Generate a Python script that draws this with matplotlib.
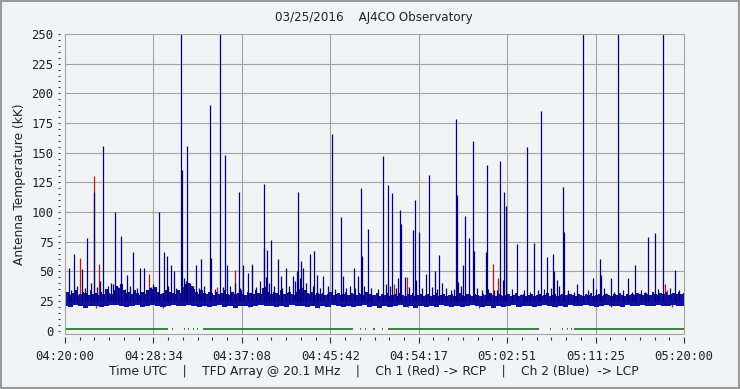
import numpy as np
import matplotlib
matplotlib.use("Agg")
import matplotlib.pyplot as plt
from matplotlib.patches import Rectangle
from matplotlib.ticker import MultipleLocator, FixedLocator

# ---------------- data (minutes after 04:20:00) ----------------
tick_labels = ["04:20:00", "04:28:34", "04:37:08", "04:45:42",
               "04:54:17", "05:02:51", "05:11:25", "05:20:00"]

# upper envelope of the Ch 2 (blue) noise band, every 0.25 min
band_hi = [31, 33, 30, 32, 34, 30, 31, 33, 32, 30, 34, 31, 32, 30, 33, 31, 35, 32, 31, 34,
           38, 36, 39, 34, 32, 33, 31, 34, 32, 30, 33, 31, 34, 36, 35, 37, 33, 31, 32, 34,
           31, 33, 32, 31, 34, 32, 37, 39, 40, 38, 35, 33, 31, 34, 32, 31, 33, 32, 30, 33,
           31, 32, 34, 31, 30, 33, 31, 32, 34, 31, 30, 33, 32, 31, 34, 32, 31, 36, 37, 33,
           31, 33, 32, 30, 34, 31, 32, 33, 31, 30, 33, 35, 36, 34, 32, 31, 33, 30, 32, 31,
           32, 30, 31, 33, 30, 31, 32, 30, 31, 33, 30, 32, 31, 30, 32, 31, 30, 33, 31, 30,
           30, 32, 29, 31, 30, 32, 29, 30, 31, 29, 32, 30, 29, 31, 30, 32, 29, 30, 31, 29,
           30, 31, 29, 30, 32, 29, 30, 31, 29, 30, 31, 29, 30, 32, 30, 29, 31, 30, 29, 31,
           30, 29, 31, 30, 29, 32, 30, 29, 31, 30, 29, 30, 31, 29, 30, 32, 29, 30, 31, 29,
           30, 31, 29, 30, 31, 29, 30, 32, 29, 30, 31, 29, 30, 31, 30, 29, 31, 30, 29, 31,
           30, 29, 31, 30, 32, 29, 30, 31, 29, 30, 31, 30, 29, 31, 30, 32, 30, 29, 31, 30,
           31, 30, 32, 31, 30, 32, 31, 30, 33, 31, 30, 32, 31, 33, 30, 31, 32, 31, 33, 31,
           32]
# lower envelope of the blue band, every 0.5 min
band_lo = [20.5, 20, 21.5, 20.5, 19.5, 21, 20.5, 20, 21, 21.5, 22, 20.5, 20, 21, 21.5,
           20, 20.5, 21.5, 20.5, 20, 21, 21.5, 20.5, 21, 22, 20.5, 20, 21, 20, 20.5,
           21.5, 20, 20.5, 19.5, 21, 20.5, 20, 21, 21.5, 21, 20.5, 20, 21, 20, 21.5,
           21, 20.5, 20, 21, 19.5, 20.5, 20, 21.5, 20.5, 20, 21, 20, 20.5, 21.5, 20,
           20.5, 19.5, 21, 20, 20.5, 21.5, 20, 20.5, 19.5, 21, 20, 20.5, 20, 21.5, 20.5,
           20, 21, 20, 20.5, 21.5, 20.5, 20, 21, 19.5, 20.5, 20, 21, 21.5, 20, 20.5,
           21, 20, 20.5, 21.5, 20.5, 20, 21, 20, 21.5, 20.5, 20.5, 21.5, 20.5, 20, 21,
           21.5, 20.5, 21, 20, 21.5, 20.5, 21, 21.5, 20.5, 21, 21.5, 20.5, 21, 21.5, 21, 21]

# Ch 2 (blue) spikes: time (min), peak (kK); 260 = off scale
blue_t = [0.36, 0.90, 1.65, 2.16, 2.84, 3.71, 4.88, 5.40, 6.04, 6.62, 7.30, 7.63,
          9.14, 9.57, 9.92, 10.30, 10.59, 11.27, 11.37, 11.83, 12.73, 13.21, 14.08,
          14.18, 15.05, 15.54, 15.73, 16.90, 17.28, 17.77, 18.16, 19.26, 19.32, 19.61,
          20.00, 20.68, 20.97, 21.39, 22.13, 22.52, 22.61, 22.91, 23.10, 23.78, 24.17,
          24.46, 25.01, 25.91, 26.78, 26.95, 27.98, 28.43, 28.72, 28.79, 29.40, 30.85,
          31.14, 31.34, 31.73, 32.31, 32.50, 32.60, 32.99, 33.70, 33.96, 34.05, 34.34,
          35.02, 35.31, 35.89, 36.09, 36.28, 36.57, 37.45, 37.93, 38.02, 38.12, 38.61,
          38.80, 39.19, 39.58, 39.65, 40.84, 40.93, 41.22, 41.61, 42.19, 42.48, 42.58,
          42.77, 43.84, 44.81, 45.49, 46.01, 46.11, 46.75, 47.33, 47.43, 47.72, 48.30,
          48.40, 49.66, 50.24, 51.21, 51.89, 51.98, 52.95, 53.63, 54.60, 55.28, 56.54,
          57.22, 57.99, 59.16]
blue_v = [53, 65, 52, 78, 117, 156, 100, 80, 47, 66, 53, 53,
          100, 66, 63, 55, 50, 260, 135, 156, 55, 60, 190,
          61, 260, 148, 55, 117, 55, 49, 55, 70, 124, 68,
          76, 60, 46, 53, 46, 50, 117, 59, 53, 65, 67,
          47, 46, 166, 96, 46, 53, 46, 120, 63, 86, 147,
          39, 123, 116, 44, 102, 90, 45, 85, 110, 43, 83,
          48, 131, 50, 35, 64, 40, 34, 178, 114, 41, 55,
          97, 78, 160, 67, 66, 140, 32, 34, 143, 43, 117,
          105, 73, 155, 74, 31, 185, 62, 65, 50, 43, 121,
          83, 39, 260, 44, 60, 47, 44, 260, 44, 55, 79,
          82, 260, 51]
# small blue noise spikes
small_t = [0.6, 1.2, 1.9, 2.5, 3.1, 3.4, 4.2, 4.5, 4.7, 5.1, 5.8, 6.3, 7.0, 7.9, 8.3,
           8.5, 8.8, 10.0, 10.8, 11.5, 11.7, 12.1, 12.4, 13.0, 13.5, 14.5, 15.3, 16.0,
           16.5, 17.0, 18.5, 18.9, 19.5, 19.8, 20.3, 21.0, 21.7, 22.3, 22.8, 23.4, 24.0,
           24.7, 25.5, 26.2, 27.2, 27.6, 28.1, 29.0, 29.7, 30.3, 31.5, 32.1, 33.3, 34.6,
           35.6, 36.9, 37.7, 38.4, 39.9, 40.4, 41.0, 41.9, 43.3, 44.5, 45.1, 45.8, 46.4,
           47.1, 47.9, 48.8, 49.3, 50.7, 51.5, 52.2, 53.2, 54.1, 55.0, 55.8, 56.2, 57.5,
           58.6, 59.5]
small_v = [34, 38, 36, 40, 37, 42, 38, 40, 39, 37, 35, 38, 36, 34, 37,
           39, 36, 38, 36, 44, 42, 40, 38, 36, 38, 35, 37, 38,
           40, 36, 37, 42, 45, 40, 38, 36, 38, 42, 44, 40, 38,
           36, 38, 35, 36, 38, 36, 38, 36, 35, 38, 36, 37, 36,
           37, 36, 35, 38, 36, 34, 35, 34, 35, 34, 33, 34, 35,
           36, 38, 34, 33, 34, 35, 36, 33, 34, 33, 34, 33, 35,
           36, 34]
# Ch 1 (red) spikes visible above blue
red_t = [1.48, 2.84, 3.27, 8.14, 14.73, 16.45, 18.16, 31.92, 33.18, 41.51, 42.00,
         43.16, 44.23, 48.63, 52.41, 58.19, 58.39]
red_v = [61, 130, 56, 48, 37, 51, 56, 39, 45, 56, 44,
         29, 31, 31, 32, 39, 34]
# places where the red trace dips just below the blue band (min, kK)
red_dip_t = [3.0, 9.5, 17.8, 24.6, 33.2, 40.1, 47.6, 52.9, 58.8]
red_dip_v = [19.5, 19.5, 19.8, 19.5, 19.8, 19.5, 19.8, 19.6, 19.7]

# green trace near zero: solid segments and isolated dots (min)
green_seg = [(0.0, 9.98), (13.4, 27.9), (31.3, 45.9), (49.3, 60.0)]
green_dots = [10.4, 11.5, 11.9, 12.4, 12.8, 28.6, 29.1, 29.9, 30.7,
              47.0, 48.2, 48.7, 49.0]
green_level = 1.0

# ---------------- figure ----------------
BG = "#f2f3f5"
GRID = "#a3a3a3"
TXT = "#222222"
BLUE = "#000080"
BAND = "#10109c"
RED = "#c01818"
GREEN = "#2a7a2a"

fig = plt.figure(figsize=(7.40, 3.89), dpi=100, facecolor=BG)
ax = fig.add_axes([65 / 740, 1 - 334 / 389, 619 / 740, 300 / 389])
ax.set_facecolor(BG)

t_hi = np.arange(len(band_hi)) * 0.25
t_lo = np.arange(len(band_lo)) * 0.5

ax.vlines(red_t, 25, red_v, color=RED, lw=0.9, zorder=2)
ax.vlines(red_dip_t, red_dip_v, 25, color=RED, lw=0.9, zorder=2)
ax.fill_between(t_hi, 25, band_hi, step="mid", color=BAND, lw=0, zorder=3)
ax.fill_between(t_lo, band_lo, 26, step="mid", color=BAND, lw=0, zorder=3)
ax.vlines(small_t, 25, small_v, color=BLUE, lw=0.9, zorder=3)
ax.vlines(blue_t, 25, blue_v, color=BLUE, lw=0.9, zorder=4)

ax.hlines([green_level] * len(green_seg), [s for s, e in green_seg],
          [e for s, e in green_seg], color=GREEN, lw=1.3, zorder=3)
ax.hlines([green_level] * len(green_dots), green_dots,
          [d + 0.1 for d in green_dots], color=GREEN, lw=1.3, zorder=3)

ax.set_xlim(0, 60)
ax.set_ylim(-2.8, 250)

xt = [k * 60 / 7 for k in range(8)]
ax.xaxis.set_major_locator(FixedLocator(xt))
ax.set_xticklabels(tick_labels)
ax.xaxis.set_minor_locator(FixedLocator([k * 60 / 42 for k in range(43)]))
ax.yaxis.set_major_locator(MultipleLocator(25))
ax.yaxis.set_minor_locator(MultipleLocator(5))

for s in ax.spines.values():
    s.set_visible(False)
ax.spines["left"].set_position(("outward", 3.8))
ax.spines["bottom"].set_position(("outward", 2.2))
ax.add_patch(Rectangle((0, 0), 1, 1, transform=ax.transAxes, fill=False,
                       edgecolor=GRID, lw=0.8, clip_on=False, zorder=5))

# grid (no line at zero)
for x in xt[1:-1]:
    ax.axvline(x, color=GRID, lw=0.8, zorder=1)
for y in range(25, 250, 25):
    ax.axhline(y, color=GRID, lw=0.8, zorder=1)

mono = "DejaVu Sans Mono"
ax.tick_params(axis="x", which="major", length=4.3, width=0.8, color="#333333",
               pad=5, labelsize=8.8, labelcolor=TXT)
ax.tick_params(axis="x", which="minor", length=2.2, width=0.8, color="#333333")
ax.tick_params(axis="y", which="both", length=1.5, width=0.8, color="#333333",
               pad=3, labelsize=8.8, labelcolor=TXT)
for lab in ax.get_xticklabels() + ax.get_yticklabels():
    lab.set_fontfamily(mono)

fig.text(374 / 740, 1 - 18 / 389, "03/25/2016    AJ4CO Observatory",
         ha="center", va="center", fontsize=8.6, color=TXT, family="DejaVu Sans")
fig.text(20 / 740, 1 - 184 / 389, "Antenna Temperature (kK)", rotation=90,
         ha="center", va="center", fontsize=8.8, color=TXT, family="DejaVu Sans")
fig.text(374 / 740, 1 - 372 / 389,
         "Time UTC    |    TFD Array @ 20.1 MHz    |    Ch 1 (Red) -> RCP    |    Ch 2 (Blue)  -> LCP",
         ha="center", va="center", fontsize=8.8, color=TXT, family="DejaVu Sans")

fig.patches.append(Rectangle((0.001, 0.002), 0.997, 0.995, transform=fig.transFigure,
                             fill=False, edgecolor="#9a9a9a", lw=1.5))

fig.savefig("out.png", dpi=100, facecolor=BG)
